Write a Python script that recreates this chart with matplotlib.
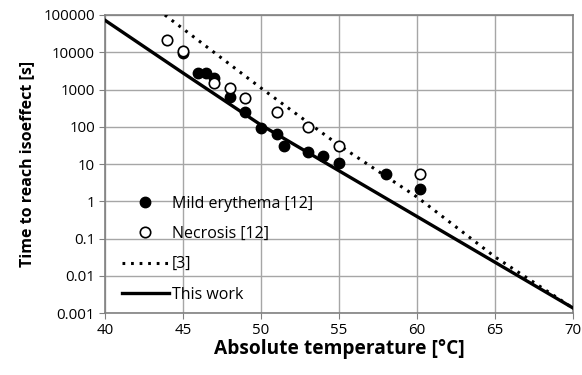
import numpy as np
import matplotlib.pyplot as plt

# data
ery_T = [45, 46, 46.5, 47, 48, 49, 50, 51, 51.5, 53, 54, 55, 58, 60.2]
ery_t = [9300, 2800, 2800, 2100, 640, 245, 93, 63, 31, 21, 16, 10.5, 5.3, 2.1]

nec_T = [44, 45, 47, 48, 49, 51, 53, 55, 60.2]
nec_t = [21500, 11000, 1500, 1100, 580, 250, 97, 31, 5.3]

ref3_T = [43.85, 50, 55, 60, 65, 70]
ref3_t = [1e5, 1100, 32, 1.3, 0.032, 0.00135]

work_T = [40, 45, 50, 55, 60, 65, 70]
work_t = [73000, 2800, 112, 6.6, 0.39, 0.023, 0.00136]

xticks = [40, 45, 50, 55, 60, 65, 70]
yticks = [0.001, 0.01, 0.1, 1, 10, 100, 1000, 10000, 100000]
ylabels = ['0.001', '0.01', '0.1', '1', '10', '100', '1000', '10000', '100000']

plt.rcParams['font.family'] = ['Open Sans', 'DejaVu Sans']

fig = plt.figure(figsize=(5.82, 3.75), dpi=100)
ax = fig.add_axes([0.180, 0.165, 0.805, 0.795])

ax.plot(ery_T, ery_t, 'o', color='black', markersize=7.5, label='Mild erythema [12]', zorder=4)
ax.plot(nec_T, nec_t, 'o', markerfacecolor='white', markeredgecolor='black',
        markeredgewidth=1.2, markersize=7.5, label='Necrosis [12]', zorder=4)
ax.plot(ref3_T, ref3_t, color='black', lw=2.2, linestyle=(0, (0.9, 1.9)), label='[3]', zorder=3)
ax.plot(work_T, work_t, color='black', lw=2.4, label='This work', zorder=3)

ax.set_yscale('log')
ax.set_xlim(40, 70)
ax.set_ylim(0.001, 100000)
ax.set_xticks(xticks)
ax.set_yticks(yticks)
ax.set_yticklabels(ylabels)
ax.minorticks_off()
ax.grid(True, color='#a6a6a6', lw=1)
ax.set_axisbelow(True)
ax.tick_params(labelsize=10.8, length=4, color='#808080', pad=3)
for s in ax.spines.values():
    s.set_color('#808080')
    s.set_linewidth(1.2)

ax.set_xlabel('Absolute temperature [°C]', fontsize=13.8, fontweight='bold', labelpad=1)
ax.set_ylabel('Time to reach isoeffect [s]', fontsize=11.5, fontweight='bold', labelpad=6)

ax.legend(loc='lower left', bbox_to_anchor=(0.036, 0.035), frameon=False, fontsize=11.5,
          handlelength=2.95, labelspacing=0.9, handletextpad=0.2,
          borderpad=0, borderaxespad=0)

fig.savefig('out.png', dpi=100)
